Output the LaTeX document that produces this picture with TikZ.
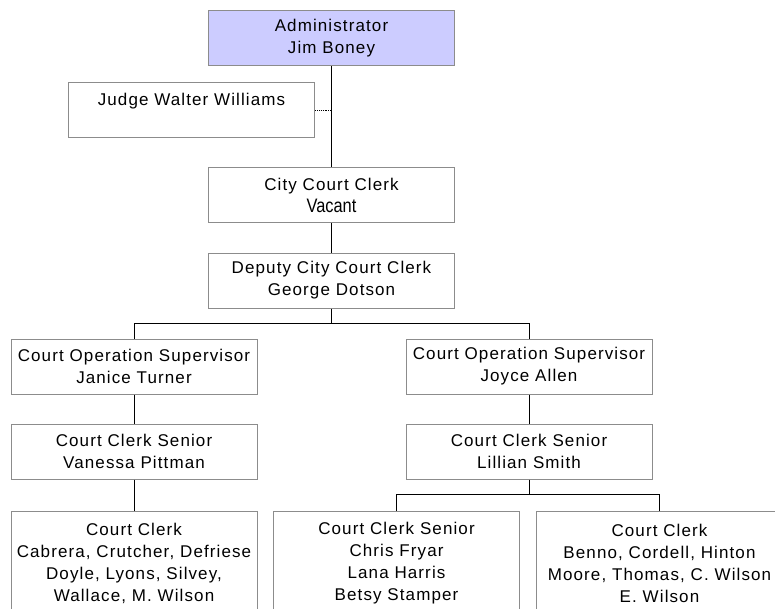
\documentclass[tikz,border=0pt]{standalone}
\usepackage{fontspec}
\setmainfont{Liberation Sans}[LetterSpace=6.5]
\newfontfamily\narrowfont{Liberation Sans}[FakeStretch=0.84]
\usepackage{tikz}
\usetikzlibrary{positioning}
\definecolor{boxline}{RGB}{140,140,140}
\definecolor{headfill}{RGB}{204,204,255}

\begin{document}
\begin{tikzpicture}[x=1pt,y=-1pt,
    box/.style={draw=boxline,line width=1pt,fill=white,minimum width=246pt,
      minimum height=55pt,inner sep=0pt,align=center,
      font=\fontsize{17}{22}\selectfont},
    tallbox/.style={box,minimum height=104pt},
    headbox/.style={box,fill=headfill},
    link/.style={line width=0.9pt,black}]
  \useasboundingbox (0,0) rectangle (775,608);
  % top of the chart
  \node[headbox] (admin) at (331.5,38) {Administrator\\Jim Boney};
  \node[box] (judge) at (191.5,110) {Judge Walter Williams\\\mbox{}};
  \node[box] (city) at (331.5,195) {City Court Clerk\\{\narrowfont\fontsize{19.5}{22}\selectfont Vacant}};
  \node[box] (deputy) at (331.5,280.5) {Deputy City Court Clerk\\George Dotson};
  % the two supervisors
  \node[box] (supA) at (134,366.5) {Court Operation Supervisor\\Janice Turner};
  \node[box] (supB) at (529,366.5) {Court Operation Supervisor\\Joyce Allen};
  \node[box] (senA) at (134,451.5) {Court Clerk Senior\\Vanessa Pittman};
  \node[box] (senB) at (529,451.5) {Court Clerk Senior\\Lillian Smith};
  % clerks
  \node[tallbox] (clkA) at (134,563) {Court Clerk\\Cabrera, Crutcher, Defriese\\Doyle, Lyons, Silvey,\\Wallace, M. Wilson};
  \node[tallbox] (clkB) at (396.5,563) {Court Clerk Senior\\Chris Fryar\\Lana Harris\\Betsy Stamper};
  \node[tallbox] (clkC) at (659.5,563) {Court Clerk\\Benno, Cordell, Hinton\\Moore, Thomas, C. Wilson\\E. Wilson};

  \draw[link,line width=1.7pt] (admin.south) -- (city.north);
  \draw[link,densely dotted] (judge.east) -- (judge.east -| admin.south);
  \draw[link] (city.south) -- (deputy.north);
  \draw[link] (deputy.south) -- ++(0,15) -| (supA.north);
  \draw[link] (deputy.south) ++(0,15) -| (supB.north);
  \draw[link] (supA.south) -- (senA.north);
  \draw[link] (supB.south) -- (senB.north);
  \draw[link] (senA.south) -- (clkA.north);
  \draw[link] (senB.south) -- ++(0,15) -| (clkB.north);
  \draw[link] (senB.south) ++(0,15) -| (clkC.north);
\end{tikzpicture}
\end{document}
